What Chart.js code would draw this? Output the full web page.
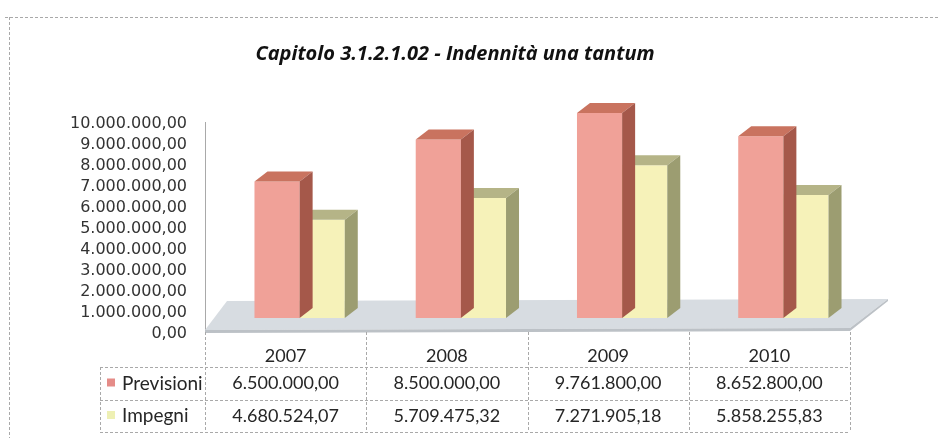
<!DOCTYPE html>
<html>
<head>
<meta charset="utf-8">
<script src="https://cdn.jsdelivr.net/npm/chart.js@4/dist/chart.umd.min.js"></script>
<style>
  html, body { margin: 0; padding: 0; background: #fff; }
</style>
</head>
<body>
<canvas id="grafico" width="939" height="438"></canvas>
<script>
// dati
const anni = ['2007', '2008', '2009', '2010'];
const previsioni = [6500000.00, 8500000.00, 9761800.00, 8652800.00];
const impegni = [4680524.07, 5709475.32, 7271905.18, 5858255.83];
const nomiSerie = ['Previsioni', 'Impegni'];
const titolo = 'Capitolo 3.1.2.1.02 - Indennità una tantum';

// colori: fronte, cima, lato
const coloriPrev = ['#f0a198', '#c9735f', '#a5584a'];
const coloriImp = ['#f6f2b9', '#b5b487', '#9c9d71'];

// 1234567.8 -> 1.234.567,80
function formatta(v) {
    const parti = v.toFixed(2).split('.');
    return parti[0].replace(/\B(?=(\d{3})+(?!\d))/g, '.') + ',' + parti[1];
}

const DX = 13, DY = 10;      // profondità 3d delle barre
const SPOSTA = 14;           // le barre stanno "dentro" il pavimento

const effetto3d = {
    id: 'effetto3d',
    beforeDatasetsDraw(chart) {
        const ctx = chart.ctx, a = chart.chartArea;
        // pavimento
        ctx.save();
        ctx.fillStyle = '#d7dce1';
        ctx.beginPath();
        ctx.moveTo(a.left, a.bottom - 2);
        ctx.lineTo(a.right, a.bottom - 4);
        ctx.lineTo(a.right + 38, a.bottom - 33);
        ctx.lineTo(a.left + 22, a.bottom - 31);
        ctx.closePath();
        ctx.fill();
        ctx.fillStyle = '#bcc1c6';
        ctx.beginPath();
        ctx.moveTo(a.left, a.bottom - 2);
        ctx.lineTo(a.right, a.bottom - 4);
        ctx.lineTo(a.right + 38, a.bottom - 33);
        ctx.lineTo(a.right + 38, a.bottom - 31);
        ctx.lineTo(a.right, a.bottom - 1);
        ctx.lineTo(a.left, a.bottom + 1);
        ctx.closePath();
        ctx.fill();
        ctx.restore();
        ctx.save();
        ctx.translate(SPOSTA, -SPOSTA);
    },
    afterDatasetDraw(chart, args) {
        const ctx = chart.ctx;
        const col = args.index === 0 ? coloriPrev : coloriImp;
        args.meta.data.forEach(bar => {
            const p = bar.getProps(['x', 'y', 'base', 'width'], true);
            const l = p.x - p.width / 2, r = p.x + p.width / 2;
            ctx.fillStyle = col[1];
            ctx.beginPath();
            ctx.moveTo(l, p.y);
            ctx.lineTo(l + DX, p.y - DY);
            ctx.lineTo(r + DX, p.y - DY);
            ctx.lineTo(r, p.y);
            ctx.closePath();
            ctx.fill();
            ctx.fillStyle = col[2];
            ctx.beginPath();
            ctx.moveTo(r, p.y);
            ctx.lineTo(r + DX, p.y - DY);
            ctx.lineTo(r + DX, p.base - DY);
            ctx.lineTo(r, p.base);
            ctx.closePath();
            ctx.fill();
        });
    },
    afterDatasetsDraw(chart) {
        chart.ctx.restore();
    }
};

// tabella dati sotto il grafico
const tabella = {
    id: 'tabella',
    afterDraw(chart) {
        const ctx = chart.ctx, a = chart.chartArea, x = chart.scales.x;
        const largh = (a.right - a.left) / anni.length;
        const b = a.bottom;
        const righe = [b + 35, b + 68, b + 100];
        const sinistra = 100;
        ctx.save();
        ctx.strokeStyle = '#a9a9a9';
        ctx.lineWidth = 1;
        ctx.setLineDash([3, 2]);
        ctx.beginPath();
        for (let i = 0; i <= anni.length; i++) {
            const xx = Math.round(a.left + i * largh) + 0.5;
            ctx.moveTo(xx, b);
            ctx.lineTo(xx, righe[2]);
        }
        righe.forEach(y => {
            ctx.moveTo(sinistra, y + 0.5);
            ctx.lineTo(a.right, y + 0.5);
        });
        ctx.moveTo(sinistra + 0.5, righe[0]);
        ctx.lineTo(sinistra + 0.5, righe[2]);
        // cornice
        ctx.moveTo(5, 17.5);
        ctx.lineTo(939, 17.5);
        ctx.moveTo(9.5, 17);
        ctx.lineTo(9.5, 438);
        ctx.stroke();
        ctx.setLineDash([]);

        ctx.fillStyle = '#262626';
        ctx.font = '18px Lato';
        ctx.textAlign = 'center';
        ctx.textBaseline = 'middle';
        anni.forEach((anno, i) => {
            const cx = x.getPixelForValue(i);
            ctx.fillText(anno, cx, b + 24);
            ctx.fillText(formatta(previsioni[i]), cx, (righe[0] + righe[1]) / 2);
            ctx.fillText(formatta(impegni[i]), cx, (righe[1] + righe[2]) / 2);
        });
        ctx.textAlign = 'left';
        ctx.font = '19px Lato';
        [0, 1].forEach(k => {
            const cy = (righe[k] + righe[k + 1]) / 2;
            ctx.fillStyle = k === 0 ? '#e58c88' : '#eef0b4';
            ctx.fillRect(107, cy - 5, 8, 8);
            ctx.fillStyle = '#262626';
            ctx.fillText(nomiSerie[k], 122, cy);
        });
        ctx.restore();
    }
};

new Chart(document.getElementById('grafico'), {
    type: 'bar',
    data: {
        labels: anni,
        datasets: [
            { label: nomiSerie[0], data: previsioni, backgroundColor: coloriPrev[0], clip: false },
            { label: nomiSerie[1], data: impegni, backgroundColor: coloriImp[0], clip: false }
        ]
    },
    options: {
        responsive: false,
        devicePixelRatio: 1,
        animation: false,
        events: [],
        layout: { padding: { left: 60, right: 89, bottom: 106, top: 0 } },
        datasets: { bar: { categoryPercentage: 0.56, barPercentage: 1 } },
        plugins: {
            legend: { display: false },
            tooltip: { enabled: false },
            title: {
                display: true,
                text: titolo,
                color: '#111',
                font: { family: '"Open Sans"', size: 20, weight: 'bold', style: 'italic', lineHeight: 1.2 },
                padding: { top: 42, bottom: 56 }
            }
        },
        scales: {
            x: { display: false },
            y: {
                min: 0,
                max: 10000000,
                afterFit(scale) { scale.width = 145; },
                grid: { display: false, drawTicks: false },
                border: { display: true, color: '#a9a9a9', dash: [3, 2] },
                ticks: {
                    stepSize: 1000000,
                    autoSkip: false,
                    padding: 18,
                    labelOffset: 2,
                    color: '#333',
                    font: { family: '"DejaVu Sans"', size: 16, lineHeight: 1 },
                    callback: v => formatta(v)
                }
            }
        }
    },
    plugins: [effetto3d, tabella]
});
</script>
</body>
</html>
